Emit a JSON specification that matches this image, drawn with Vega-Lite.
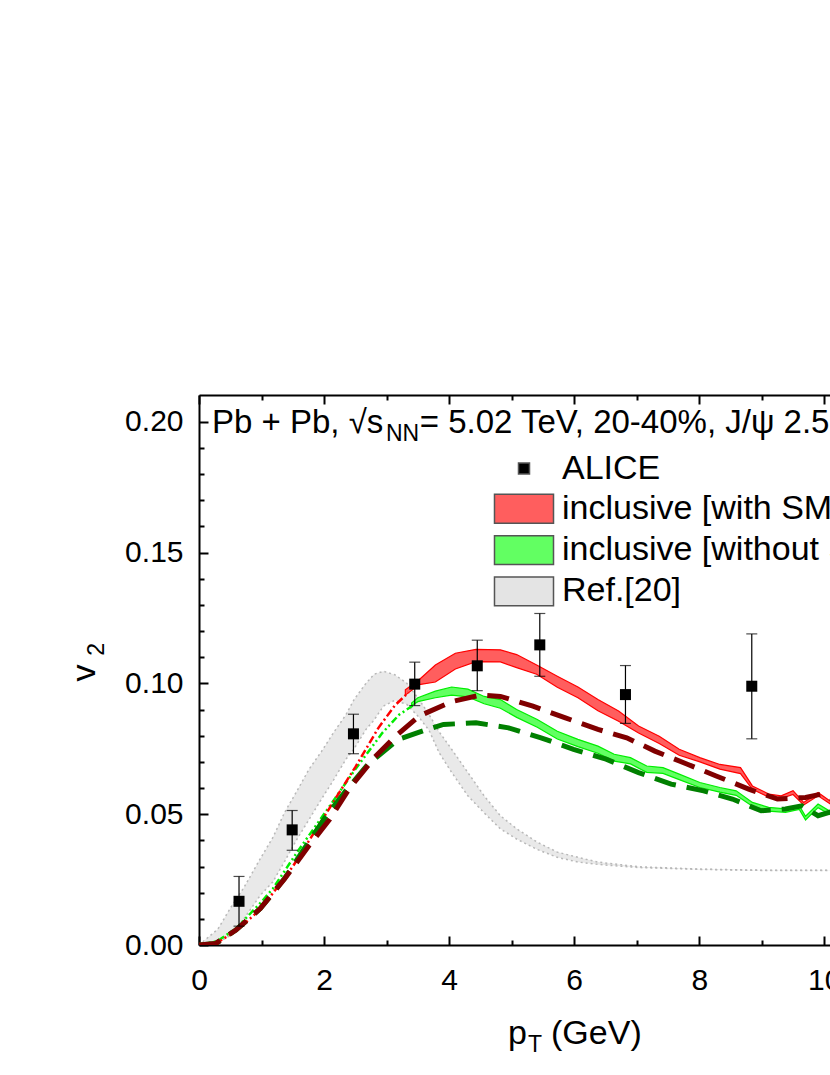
{
  "$schema": "https://vega.github.io/schema/vega-lite/v6.json",
  "autosize": {"type": "none"},
  "padding": {"left": 199, "top": 395, "right": 0, "bottom": 130},
  "width": 631,
  "height": 550,
  "background": "white",
  "config": {
    "view": {"stroke": null},
    "font": "Liberation Sans",
    "axis": {"labelFont": "Liberation Sans", "labelFontSize": 30, "labelColor": "black", "domainColor": "black", "domainWidth": 2, "tickColor": "black", "tickWidth": 2, "grid": false, "title": null, "labelOverlap": false, "labelFlush": false},
    "legend": {"orient": "none", "legendX": 308, "legendY": 56.5, "labelFont": "Liberation Sans", "labelFontSize": 34, "labelColor": "black", "symbolSize": 387, "labelOffset": 21, "rowPadding": 5.3, "padding": 0, "labelLimit": 2000, "symbolOpacity": 1}
  },
  "datasets": {
    "alice": [
      {"series": "ALICE", "x": 0.64, "y": 0.0167, "lo": 0.0072, "hi": 0.0262},
      {"series": "ALICE", "x": 1.49, "y": 0.0440, "lo": 0.0362, "hi": 0.0514},
      {"series": "ALICE", "x": 2.47, "y": 0.0807, "lo": 0.0731, "hi": 0.0882},
      {"series": "ALICE", "x": 3.45, "y": 0.0997, "lo": 0.0915, "hi": 0.1081},
      {"series": "ALICE", "x": 4.45, "y": 0.1067, "lo": 0.0972, "hi": 0.1165},
      {"series": "ALICE", "x": 5.45, "y": 0.1147, "lo": 0.1027, "hi": 0.1267},
      {"series": "ALICE", "x": 6.82, "y": 0.0957, "lo": 0.0847, "hi": 0.1068},
      {"series": "ALICE", "x": 8.84, "y": 0.0989, "lo": 0.0788, "hi": 0.1189}
    ],
    "gray": [
      {"series": "Ref.[20]", "x": 0.0, "lo": 0.0, "hi": 0.0},
      {"series": "Ref.[20]", "x": 0.3, "lo": 0.001, "hi": 0.006},
      {"series": "Ref.[20]", "x": 0.53, "lo": 0.004, "hi": 0.0152},
      {"series": "Ref.[20]", "x": 0.72, "lo": 0.0101, "hi": 0.022},
      {"series": "Ref.[20]", "x": 0.98, "lo": 0.019, "hi": 0.033},
      {"series": "Ref.[20]", "x": 1.18, "lo": 0.0241, "hi": 0.041},
      {"series": "Ref.[20]", "x": 1.37, "lo": 0.032, "hi": 0.0507},
      {"series": "Ref.[20]", "x": 1.57, "lo": 0.0406, "hi": 0.059},
      {"series": "Ref.[20]", "x": 1.76, "lo": 0.048, "hi": 0.0672},
      {"series": "Ref.[20]", "x": 1.96, "lo": 0.0558, "hi": 0.074},
      {"series": "Ref.[20]", "x": 2.15, "lo": 0.063, "hi": 0.0811},
      {"series": "Ref.[20]", "x": 2.35, "lo": 0.071, "hi": 0.088},
      {"series": "Ref.[20]", "x": 2.48, "lo": 0.075, "hi": 0.0938},
      {"series": "Ref.[20]", "x": 2.67, "lo": 0.0824, "hi": 0.1},
      {"series": "Ref.[20]", "x": 2.8, "lo": 0.086, "hi": 0.1035},
      {"series": "Ref.[20]", "x": 2.95, "lo": 0.0913, "hi": 0.1046},
      {"series": "Ref.[20]", "x": 3.13, "lo": 0.0935, "hi": 0.1033},
      {"series": "Ref.[20]", "x": 3.32, "lo": 0.092, "hi": 0.1001},
      {"series": "Ref.[20]", "x": 3.52, "lo": 0.087, "hi": 0.0938},
      {"series": "Ref.[20]", "x": 3.68, "lo": 0.082, "hi": 0.088},
      {"series": "Ref.[20]", "x": 3.84, "lo": 0.0735, "hi": 0.0815},
      {"series": "Ref.[20]", "x": 4.04, "lo": 0.066, "hi": 0.0748},
      {"series": "Ref.[20]", "x": 4.3, "lo": 0.057, "hi": 0.0659},
      {"series": "Ref.[20]", "x": 4.56, "lo": 0.0505, "hi": 0.057},
      {"series": "Ref.[20]", "x": 4.82, "lo": 0.0444, "hi": 0.0494},
      {"series": "Ref.[20]", "x": 5.08, "lo": 0.0405, "hi": 0.0444},
      {"series": "Ref.[20]", "x": 5.41, "lo": 0.0365, "hi": 0.0393},
      {"series": "Ref.[20]", "x": 5.73, "lo": 0.0335, "hi": 0.0355},
      {"series": "Ref.[20]", "x": 6.06, "lo": 0.0317, "hi": 0.0335},
      {"series": "Ref.[20]", "x": 6.38, "lo": 0.0308, "hi": 0.0317},
      {"series": "Ref.[20]", "x": 7.03, "lo": 0.0296, "hi": 0.0299},
      {"series": "Ref.[20]", "x": 8.01, "lo": 0.0289, "hi": 0.029},
      {"series": "Ref.[20]", "x": 9.0, "lo": 0.0285, "hi": 0.0286},
      {"series": "Ref.[20]", "x": 10.12, "lo": 0.0285, "hi": 0.0286}
    ],
    "red": [
      {"series": "inclusive [with SMC]", "x": 3.3, "lo": 0.0955, "hi": 0.0975},
      {"series": "inclusive [with SMC]", "x": 3.52, "lo": 0.0995, "hi": 0.1014},
      {"series": "inclusive [with SMC]", "x": 3.78, "lo": 0.1005, "hi": 0.107},
      {"series": "inclusive [with SMC]", "x": 4.1, "lo": 0.1055, "hi": 0.1115},
      {"series": "inclusive [with SMC]", "x": 4.43, "lo": 0.1083, "hi": 0.113},
      {"series": "inclusive [with SMC]", "x": 4.82, "lo": 0.1082, "hi": 0.1128},
      {"series": "inclusive [with SMC]", "x": 5.08, "lo": 0.106, "hi": 0.111},
      {"series": "inclusive [with SMC]", "x": 5.4, "lo": 0.1035, "hi": 0.107},
      {"series": "inclusive [with SMC]", "x": 5.73, "lo": 0.0985, "hi": 0.1027},
      {"series": "inclusive [with SMC]", "x": 6.06, "lo": 0.0945, "hi": 0.0986},
      {"series": "inclusive [with SMC]", "x": 6.38, "lo": 0.0895, "hi": 0.0938},
      {"series": "inclusive [with SMC]", "x": 6.71, "lo": 0.0855, "hi": 0.0894},
      {"series": "inclusive [with SMC]", "x": 7.03, "lo": 0.081, "hi": 0.0837},
      {"series": "inclusive [with SMC]", "x": 7.36, "lo": 0.077, "hi": 0.0798},
      {"series": "inclusive [with SMC]", "x": 7.68, "lo": 0.0725, "hi": 0.0748},
      {"series": "inclusive [with SMC]", "x": 8.01, "lo": 0.07, "hi": 0.0716},
      {"series": "inclusive [with SMC]", "x": 8.33, "lo": 0.0672, "hi": 0.069},
      {"series": "inclusive [with SMC]", "x": 8.66, "lo": 0.0655, "hi": 0.0678},
      {"series": "inclusive [with SMC]", "x": 8.85, "lo": 0.0595, "hi": 0.0608},
      {"series": "inclusive [with SMC]", "x": 9.11, "lo": 0.0565, "hi": 0.0577},
      {"series": "inclusive [with SMC]", "x": 9.31, "lo": 0.056, "hi": 0.057},
      {"series": "inclusive [with SMC]", "x": 9.5, "lo": 0.0575, "hi": 0.059},
      {"series": "inclusive [with SMC]", "x": 9.67, "lo": 0.0535, "hi": 0.0545},
      {"series": "inclusive [with SMC]", "x": 9.9, "lo": 0.057, "hi": 0.0583},
      {"series": "inclusive [with SMC]", "x": 10.12, "lo": 0.0535, "hi": 0.0545}
    ],
    "green": [
      {"series": "inclusive [without SMC]", "x": 3.4, "lo": 0.0915, "hi": 0.0925},
      {"series": "inclusive [without SMC]", "x": 3.5, "lo": 0.093, "hi": 0.0945},
      {"series": "inclusive [without SMC]", "x": 3.78, "lo": 0.0945, "hi": 0.097},
      {"series": "inclusive [without SMC]", "x": 4.04, "lo": 0.0955, "hi": 0.0986},
      {"series": "inclusive [without SMC]", "x": 4.3, "lo": 0.0948, "hi": 0.0978},
      {"series": "inclusive [without SMC]", "x": 4.56, "lo": 0.0922, "hi": 0.095},
      {"series": "inclusive [without SMC]", "x": 4.82, "lo": 0.0905, "hi": 0.0938},
      {"series": "inclusive [without SMC]", "x": 5.08, "lo": 0.087, "hi": 0.09},
      {"series": "inclusive [without SMC]", "x": 5.41, "lo": 0.0832, "hi": 0.0862},
      {"series": "inclusive [without SMC]", "x": 5.73, "lo": 0.0787, "hi": 0.0817},
      {"series": "inclusive [without SMC]", "x": 6.06, "lo": 0.0758, "hi": 0.0786},
      {"series": "inclusive [without SMC]", "x": 6.38, "lo": 0.0733, "hi": 0.076},
      {"series": "inclusive [without SMC]", "x": 6.64, "lo": 0.0703, "hi": 0.0729},
      {"series": "inclusive [without SMC]", "x": 6.9, "lo": 0.0692, "hi": 0.0716},
      {"series": "inclusive [without SMC]", "x": 7.16, "lo": 0.066, "hi": 0.0684},
      {"series": "inclusive [without SMC]", "x": 7.42, "lo": 0.0656, "hi": 0.0678},
      {"series": "inclusive [without SMC]", "x": 7.68, "lo": 0.0632, "hi": 0.0653},
      {"series": "inclusive [without SMC]", "x": 8.01, "lo": 0.0602, "hi": 0.0621},
      {"series": "inclusive [without SMC]", "x": 8.33, "lo": 0.0584, "hi": 0.0602},
      {"series": "inclusive [without SMC]", "x": 8.59, "lo": 0.0572, "hi": 0.0589},
      {"series": "inclusive [without SMC]", "x": 8.85, "lo": 0.053, "hi": 0.0545},
      {"series": "inclusive [without SMC]", "x": 9.11, "lo": 0.0512, "hi": 0.0526},
      {"series": "inclusive [without SMC]", "x": 9.38, "lo": 0.0507, "hi": 0.052},
      {"series": "inclusive [without SMC]", "x": 9.6, "lo": 0.0518, "hi": 0.0532},
      {"series": "inclusive [without SMC]", "x": 9.7, "lo": 0.0478, "hi": 0.0492},
      {"series": "inclusive [without SMC]", "x": 9.9, "lo": 0.0525, "hi": 0.0539},
      {"series": "inclusive [without SMC]", "x": 10.12, "lo": 0.0495, "hi": 0.0507}
    ],
    "redline": [
      {"x": 0.0, "y": 0.0}, {"x": 0.3, "y": 0.001}, {"x": 0.6, "y": 0.0055}, {"x": 1.0, "y": 0.014},
      {"x": 1.5, "y": 0.03}, {"x": 2.0, "y": 0.049}, {"x": 2.5, "y": 0.068}, {"x": 2.87, "y": 0.083},
      {"x": 3.13, "y": 0.0915}, {"x": 3.35, "y": 0.0965}
    ],
    "greenline": [
      {"x": 0.0, "y": 0.0}, {"x": 0.3, "y": 0.0015}, {"x": 0.6, "y": 0.0065}, {"x": 1.0, "y": 0.0165},
      {"x": 1.18, "y": 0.0215}, {"x": 1.57, "y": 0.0355}, {"x": 2.02, "y": 0.0507}, {"x": 2.48, "y": 0.0665},
      {"x": 2.93, "y": 0.081}, {"x": 3.2, "y": 0.088}, {"x": 3.45, "y": 0.092}
    ],
    "darkred": [
      {"x": 0.0, "y": 0.0}, {"x": 0.27, "y": 0.0006}, {"x": 0.59, "y": 0.0057}, {"x": 0.98, "y": 0.0139},
      {"x": 1.37, "y": 0.0253}, {"x": 1.76, "y": 0.038}, {"x": 2.09, "y": 0.048}, {"x": 2.41, "y": 0.06},
      {"x": 2.8, "y": 0.0715}, {"x": 3.13, "y": 0.0795}, {"x": 3.52, "y": 0.0875}, {"x": 4.04, "y": 0.093},
      {"x": 4.5, "y": 0.0955}, {"x": 4.82, "y": 0.095}, {"x": 5.34, "y": 0.0913}, {"x": 5.86, "y": 0.0868},
      {"x": 6.38, "y": 0.0824}, {"x": 6.84, "y": 0.0792}, {"x": 7.29, "y": 0.0741}, {"x": 7.81, "y": 0.0691},
      {"x": 8.27, "y": 0.0646}, {"x": 8.79, "y": 0.0596}, {"x": 9.25, "y": 0.0558}, {"x": 9.7, "y": 0.0564},
      {"x": 9.96, "y": 0.0577}, {"x": 10.12, "y": 0.056}
    ],
    "darkgreen": [
      {"x": 0.0, "y": 0.0}, {"x": 0.27, "y": 0.0006}, {"x": 0.59, "y": 0.0057}, {"x": 0.98, "y": 0.0139},
      {"x": 1.37, "y": 0.0255}, {"x": 1.7, "y": 0.0374}, {"x": 2.02, "y": 0.0488}, {"x": 2.35, "y": 0.059},
      {"x": 2.7, "y": 0.069}, {"x": 3.19, "y": 0.0786}, {"x": 3.6, "y": 0.082}, {"x": 3.91, "y": 0.0843},
      {"x": 4.43, "y": 0.0849}, {"x": 4.95, "y": 0.083}, {"x": 5.47, "y": 0.0792}, {"x": 5.99, "y": 0.0748},
      {"x": 6.51, "y": 0.071}, {"x": 7.03, "y": 0.0659}, {"x": 7.55, "y": 0.0615}, {"x": 8.07, "y": 0.0589},
      {"x": 8.53, "y": 0.0558}, {"x": 8.99, "y": 0.0513}, {"x": 9.38, "y": 0.052}, {"x": 9.64, "y": 0.0532},
      {"x": 9.9, "y": 0.0494}, {"x": 10.12, "y": 0.051}
    ]
  },
  "layer": [
    {
      "data": {"name": "gray"},
      "mark": {"type": "area", "opacity": 0.8, "clip": true},
      "encoding": {
        "x": {"field": "x", "type": "quantitative", "scale": {"domain": [0, 10.091], "nice": false, "zero": false},
              "axis": {"orient": "bottom", "values": [0, 2, 4, 6, 8, 10], "format": "d", "tickSize": -9, "labelPadding": 29}},
        "y": {"field": "lo", "type": "quantitative", "scale": {"domain": [0, 0.2102], "nice": false, "zero": false},
              "axis": {"orient": "left", "values": [0, 0.05, 0.1, 0.15, 0.2], "format": ".2f", "tickSize": -9, "labelPadding": 25}},
        "y2": {"field": "hi"},
        "color": {"field": "series", "type": "nominal",
                  "scale": {"domain": ["ALICE", "inclusive [with SMC]", "inclusive [without SMC]", "Ref.[20]"], "range": ["#000000", "#ff5e5e", "#62ff62", "#e4e4e4"]},
                  "legend": {"title": null, "encode": {"symbols": {"update": {"stroke": {"value": "#555555"}, "strokeWidth": {"value": 1.5}, "opacity": {"value": 1}}}}}}
      }
    },
    {
      "data": {"name": "gray"},
      "mark": {"type": "line", "color": "#b8b8b8", "strokeWidth": 1.5, "strokeDash": [2, 3], "clip": true},
      "encoding": {
        "x": {"field": "x", "type": "quantitative", "scale": {"domain": [0, 10.091], "nice": false, "zero": false},
              "axis": {"orient": "bottom", "values": [1, 3, 5, 7, 9], "labels": false, "domain": false, "tickSize": -5}},
        "y": {"field": "hi", "type": "quantitative", "scale": {"domain": [0, 0.2102], "nice": false, "zero": false},
              "axis": {"orient": "left", "values": [0.01, 0.02, 0.03, 0.04, 0.06, 0.07, 0.08, 0.09, 0.11, 0.12, 0.13, 0.14, 0.16, 0.17, 0.18, 0.19], "labels": false, "domain": false, "tickSize": -5}}
      }
    },
    {
      "data": {"name": "gray"},
      "mark": {"type": "line", "color": "#b8b8b8", "strokeWidth": 1.5, "strokeDash": [2, 3], "clip": true},
      "encoding": {
        "x": {"field": "x", "type": "quantitative", "scale": {"domain": [0, 10.091], "nice": false, "zero": false},
              "axis": {"orient": "top", "values": [0, 2, 4, 6, 8, 10], "labels": false, "tickSize": -9}},
        "y": {"field": "lo", "type": "quantitative", "scale": {"domain": [0, 0.2102], "nice": false, "zero": false}, "axis": null}
      }
    },
    {
      "data": {"name": "green"},
      "mark": {"type": "area", "stroke": "#00ee00", "strokeWidth": 1.2, "clip": true},
      "encoding": {
        "x": {"field": "x", "type": "quantitative", "scale": {"domain": [0, 10.091], "nice": false, "zero": false},
              "axis": {"orient": "top", "values": [1, 3, 5, 7, 9], "labels": false, "domain": false, "tickSize": -5}},
        "y": {"field": "lo", "type": "quantitative", "scale": {"domain": [0, 0.2102], "nice": false, "zero": false}, "axis": null},
        "y2": {"field": "hi"},
        "color": {"field": "series", "type": "nominal",
                  "scale": {"domain": ["ALICE", "inclusive [with SMC]", "inclusive [without SMC]", "Ref.[20]"], "range": ["#000000", "#ff5e5e", "#62ff62", "#e4e4e4"]}}
      }
    },
    {
      "data": {"name": "greenline"},
      "mark": {"type": "line", "color": "#00ee00", "strokeWidth": 2.5, "strokeDash": [7, 3, 2, 3, 2, 3], "clip": true},
      "encoding": {
        "x": {"field": "x", "type": "quantitative", "scale": {"domain": [0, 10.091], "nice": false, "zero": false}, "axis": null},
        "y": {"field": "y", "type": "quantitative", "scale": {"domain": [0, 0.2102], "nice": false, "zero": false}, "axis": null}
      }
    },
    {
      "data": {"name": "red"},
      "mark": {"type": "area", "stroke": "#ff0000", "strokeWidth": 1.2, "clip": true},
      "encoding": {
        "x": {"field": "x", "type": "quantitative", "scale": {"domain": [0, 10.091], "nice": false, "zero": false}, "axis": null},
        "y": {"field": "lo", "type": "quantitative", "scale": {"domain": [0, 0.2102], "nice": false, "zero": false}, "axis": null},
        "y2": {"field": "hi"},
        "color": {"field": "series", "type": "nominal",
                  "scale": {"domain": ["ALICE", "inclusive [with SMC]", "inclusive [without SMC]", "Ref.[20]"], "range": ["#000000", "#ff5e5e", "#62ff62", "#e4e4e4"]}}
      }
    },
    {
      "data": {"name": "redline"},
      "mark": {"type": "line", "color": "#ff0000", "strokeWidth": 2.5, "strokeDash": [8, 3, 2, 3], "clip": true},
      "encoding": {
        "x": {"field": "x", "type": "quantitative", "scale": {"domain": [0, 10.091], "nice": false, "zero": false}, "axis": null},
        "y": {"field": "y", "type": "quantitative", "scale": {"domain": [0, 0.2102], "nice": false, "zero": false}, "axis": null}
      }
    },
    {
      "data": {"name": "darkgreen"},
      "mark": {"type": "line", "color": "#008000", "strokeWidth": 5, "strokeDash": [22, 11], "clip": true},
      "encoding": {
        "x": {"field": "x", "type": "quantitative", "scale": {"domain": [0, 10.091], "nice": false, "zero": false}, "axis": null},
        "y": {"field": "y", "type": "quantitative", "scale": {"domain": [0, 0.2102], "nice": false, "zero": false}, "axis": null}
      }
    },
    {
      "data": {"name": "darkred"},
      "mark": {"type": "line", "color": "#800000", "strokeWidth": 5, "strokeDash": [22, 11], "clip": true},
      "encoding": {
        "x": {"field": "x", "type": "quantitative", "scale": {"domain": [0, 10.091], "nice": false, "zero": false}, "axis": null},
        "y": {"field": "y", "type": "quantitative", "scale": {"domain": [0, 0.2102], "nice": false, "zero": false}, "axis": null}
      }
    },
    {
      "data": {"name": "alice"},
      "mark": {"type": "errorbar", "ticks": {"size": 11, "color": "black", "thickness": 1.2}, "rule": {"color": "black", "strokeWidth": 1.2}},
      "encoding": {
        "x": {"field": "x", "type": "quantitative", "scale": {"domain": [0, 10.091], "nice": false, "zero": false}, "axis": null},
        "y": {"field": "lo", "type": "quantitative", "scale": {"domain": [0, 0.2102], "nice": false, "zero": false}, "axis": null},
        "y2": {"field": "hi"}
      }
    },
    {
      "data": {"name": "alice"},
      "mark": {"type": "point", "filled": true, "opacity": 1, "size": 387},
      "encoding": {
        "x": {"field": "x", "type": "quantitative", "scale": {"domain": [0, 10.091], "nice": false, "zero": false}, "axis": null},
        "y": {"field": "y", "type": "quantitative", "scale": {"domain": [0, 0.2102], "nice": false, "zero": false}, "axis": null},
        "color": {"field": "series", "type": "nominal",
                  "scale": {"domain": ["ALICE", "inclusive [with SMC]", "inclusive [without SMC]", "Ref.[20]"], "range": ["#000000", "#ff5e5e", "#62ff62", "#e4e4e4"]}},
        "shape": {"field": "series", "type": "nominal",
                  "scale": {"domain": ["ALICE", "inclusive [with SMC]", "inclusive [without SMC]", "Ref.[20]"], "range": ["M-0.56,-0.56H0.56V0.56H-0.56Z", "M-3,-1.47H3V1.47H-3Z", "M-3,-1.47H3V1.47H-3Z", "M-3,-1.47H3V1.47H-3Z"]},
                  "legend": {"title": null}}
      }
    },
    {
      "data": {"values": [{}]},
      "mark": {"type": "text", "text": "Pb + Pb, √s", "font": "Liberation Sans", "fontSize": 33, "align": "left", "baseline": "alphabetic", "color": "black"},
      "encoding": {
        "x": {"datum": 0.208, "type": "quantitative", "scale": {"domain": [0, 10.091], "nice": false, "zero": false}, "axis": null},
        "y": {"datum": 0.1957, "type": "quantitative", "scale": {"domain": [0, 0.2102], "nice": false, "zero": false}, "axis": null}
      }
    },
    {
      "data": {"values": [{}]},
      "mark": {"type": "text", "text": "NN", "font": "Liberation Sans", "fontSize": 23, "align": "left", "baseline": "alphabetic", "color": "black"},
      "encoding": {
        "x": {"datum": 2.99, "type": "quantitative", "scale": {"domain": [0, 10.091], "nice": false, "zero": false}, "axis": null},
        "y": {"datum": 0.1925, "type": "quantitative", "scale": {"domain": [0, 0.2102], "nice": false, "zero": false}, "axis": null}
      }
    },
    {
      "data": {"values": [{}]},
      "mark": {"type": "text", "text": "= 5.02 TeV, 20-40%, J/ψ 2.5 < y < 4", "font": "Liberation Sans", "fontSize": 33, "align": "left", "baseline": "alphabetic", "color": "black"},
      "encoding": {
        "x": {"datum": 3.53, "type": "quantitative", "scale": {"domain": [0, 10.091], "nice": false, "zero": false}, "axis": null},
        "y": {"datum": 0.1957, "type": "quantitative", "scale": {"domain": [0, 0.2102], "nice": false, "zero": false}, "axis": null}
      }
    },
    {
      "data": {"values": [{}]},
      "mark": {"type": "text", "text": "p", "font": "Liberation Sans", "fontSize": 34, "align": "left", "baseline": "alphabetic", "color": "black"},
      "encoding": {
        "x": {"datum": 4.94, "type": "quantitative", "scale": {"domain": [0, 10.091], "nice": false, "zero": false}, "axis": null},
        "y": {"datum": -0.0378, "type": "quantitative", "scale": {"domain": [0, 0.2102], "nice": false, "zero": false}, "axis": null}
      }
    },
    {
      "data": {"values": [{}]},
      "mark": {"type": "text", "text": "T", "font": "Liberation Sans", "fontSize": 23, "align": "left", "baseline": "alphabetic", "color": "black"},
      "encoding": {
        "x": {"datum": 5.26, "type": "quantitative", "scale": {"domain": [0, 10.091], "nice": false, "zero": false}, "axis": null},
        "y": {"datum": -0.041, "type": "quantitative", "scale": {"domain": [0, 0.2102], "nice": false, "zero": false}, "axis": null}
      }
    },
    {
      "data": {"values": [{}]},
      "mark": {"type": "text", "text": "(GeV)", "font": "Liberation Sans", "fontSize": 34, "align": "left", "baseline": "alphabetic", "color": "black"},
      "encoding": {
        "x": {"datum": 5.63, "type": "quantitative", "scale": {"domain": [0, 10.091], "nice": false, "zero": false}, "axis": null},
        "y": {"datum": -0.0378, "type": "quantitative", "scale": {"domain": [0, 0.2102], "nice": false, "zero": false}, "axis": null}
      }
    },
    {
      "data": {"values": [{}]},
      "mark": {"type": "text", "text": "v", "font": "Liberation Sans", "fontSize": 34, "align": "center", "baseline": "alphabetic", "angle": 270, "color": "black"},
      "encoding": {
        "x": {"datum": -1.66, "type": "quantitative", "scale": {"domain": [0, 10.091], "nice": false, "zero": false}, "axis": null},
        "y": {"datum": 0.104, "type": "quantitative", "scale": {"domain": [0, 0.2102], "nice": false, "zero": false}, "axis": null}
      }
    },
    {
      "data": {"values": [{}]},
      "mark": {"type": "text", "text": "2", "font": "Liberation Sans", "fontSize": 23, "align": "left", "baseline": "alphabetic", "angle": 270, "color": "black"},
      "encoding": {
        "x": {"datum": -1.52, "type": "quantitative", "scale": {"domain": [0, 10.091], "nice": false, "zero": false}, "axis": null},
        "y": {"datum": 0.1105, "type": "quantitative", "scale": {"domain": [0, 0.2102], "nice": false, "zero": false}, "axis": null}
      }
    }
  ],
  "resolve": {"axis": {"x": "independent", "y": "independent"}}
}
